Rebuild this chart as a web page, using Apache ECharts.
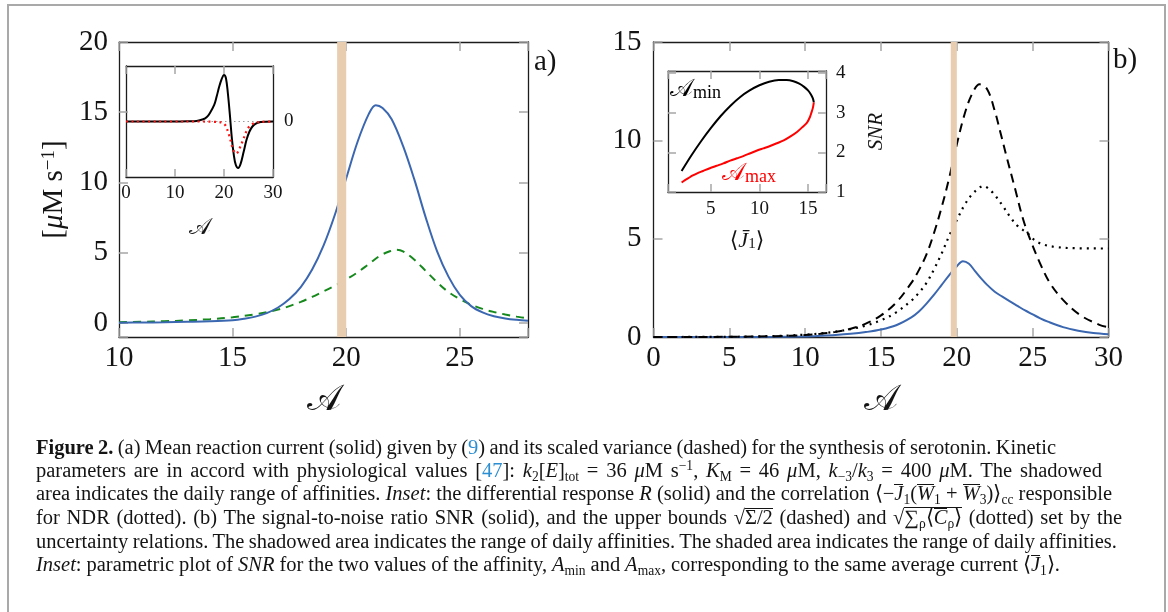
<!DOCTYPE html>
<html>
<head>
<meta charset="utf-8">
<script src="https://cdn.jsdelivr.net/npm/echarts@6/dist/echarts.min.js"></script>
<style>
html,body{margin:0;padding:0;background:#fff;width:1168px;height:612px;overflow:hidden}
#frame{position:absolute;left:7px;top:4px;width:1159px;height:660px;border:2px solid #a9a9a9;box-sizing:border-box}
#chart{position:absolute;left:0;top:0;width:1168px;height:612px}
#caption{position:absolute;left:0;top:0;font-family:'Liberation Serif',serif;font-size:20.5px;color:#141414}
.ln{position:absolute;left:36px;white-space:nowrap;line-height:22px;height:22px}
.lk{color:#2b8ed1}
sub,sup{font-size:66%;line-height:0}
sub{vertical-align:-0.3em}
sup{vertical-align:0.55em}
.ov,.ob{display:inline-block;line-height:16px;border-top:1px solid #141414}
</style>
</head>
<body>
<div id="frame"></div>
<div id="chart"></div>
<div id="caption">
<div class="ln" data-end="1056" style="top:436px"><b>Figure 2.</b> (a) Mean reaction current (solid) given by (<span class="lk">9</span>) and its scaled variance (dashed) for the synthesis of serotonin. Kinetic</div>
<div class="ln" data-end="1102" style="top:459px">parameters are in accord with physiological values [<span class="lk">47</span>]: <i>k</i><sub>2</sub>[<i>E</i>]<sub>tot</sub> = 36 <i>μ</i>M s<sup>−1</sup>, <i>K</i><sub>M</sub> = 46 <i>μ</i>M, <i>k</i><sub>−3</sub>/<i>k</i><sub>3</sub> = 400 <i>μ</i>M. The shadowed</div>
<div class="ln" data-end="1112" style="top:482px">area indicates the daily range of affinities. <i>Inset</i>: the differential response <i>R</i> (solid) and the correlation ⟨−<i class="ob">J</i><sub>1</sub>(<i class="ob">W</i><sub>1</sub> + <i class="ob">W</i><sub>3</sub>)⟩<sub>cc</sub> responsible</div>
<div class="ln" data-end="1122" style="top:506px">for NDR (dotted). (b) The signal-to-noise ratio SNR (solid), and the upper bounds √<span class="ov">Σ/2</span> (dashed) and √<span class="ov">∑<sub>ρ</sub>⟨<i class="ob">C</i><sub>ρ</sub>⟩</span> (dotted) set by the</div>
<div class="ln" data-end="1117" style="top:530px">uncertainty relations. The shadowed area indicates the range of daily affinities. The shaded area indicates the range of daily affinities.</div>
<div class="ln" data-end="1060" style="top:553px"><i>Inset</i>: parametric plot of <i>SNR</i> for the two values of the affinity, <i>A</i><sub>min</sub> and <i>A</i><sub>max</sub>, corresponding to the same average current ⟨<i class="ob">J</i><sub>1</sub>⟩.</div>
</div>
<script>
// ---------------- data ----------------
// (a) main panel
const affLeftBlue = [10,11,12,13,14,15,15.5,16,16.5,17,17.5,18,18.5,19,19.5,20,20.5,21,21.3,21.6,22,22.5,23,23.5,24,24.5,25,25.5,26,26.5,27,27.5,28];
const meanCurrent = [0.02,0.03,0.05,0.08,0.12,0.2,0.3,0.45,0.7,1.1,1.7,2.55,3.8,5.5,7.7,10.3,12.9,14.9,15.5,15.3,14.5,12.6,10.2,7.5,5.1,3.3,2.0,1.2,0.75,0.48,0.32,0.22,0.15];
const affLeftGreen = [10,11,12,13,14,15,16,17,17.5,18,18.5,19,19.5,20,20.5,21,21.5,22,22.2,22.5,23,23.5,24,24.5,25,25.5,26,26.5,27,27.5,28];
const scaledVariance = [0.05,0.08,0.12,0.18,0.27,0.4,0.62,0.95,1.2,1.5,1.85,2.25,2.65,3.1,3.6,4.2,4.8,5.15,5.22,5.1,4.5,3.7,2.9,2.2,1.7,1.3,1.0,0.78,0.6,0.45,0.32];
// (a) inset
const affInsetR = [0,5,10,13,14.4,15.75,16.5,17.1,18,18.5,19,19.5,20,20.4,20.8,21.2,21.6,22,22.4,22.9,23.4,24,24.6,25.2,25.8,26.5,27.5,30];
const responseR = [0,0,0,0.005,0.01,0.04,0.08,0.15,0.3,0.45,0.62,0.76,0.84,0.78,0.5,0.12,-0.3,-0.6,-0.78,-0.84,-0.76,-0.55,-0.33,-0.18,-0.09,-0.04,-0.01,0];
const affInsetC = [0,5,10,15,18,19.1,20.2,20.8,21.3,21.9,22.5,23.2,23.9,24.9,25.9,27.3,30];
const correlationNDR = [0,0,0,0,-0.005,-0.01,-0.06,-0.18,-0.33,-0.51,-0.58,-0.48,-0.33,-0.12,-0.04,-0.01,0];
const insetZeroAff = [0,30];
const insetZeroVal = [0,0];
// (b) main panel
const affRightBlue = [0,5,8,10,11,12,13,14,15,16,17,17.5,18,18.5,19,19.5,20,20.4,20.8,21.2,21.6,22,22.5,23,23.5,24,24.5,25,25.5,26,27,28,29,30];
const snr = [0,0,0.01,0.03,0.06,0.1,0.16,0.25,0.38,0.6,1.0,1.3,1.7,2.15,2.65,3.15,3.6,3.85,3.72,3.35,2.98,2.65,2.3,2.05,1.81,1.58,1.35,1.15,0.95,0.78,0.5,0.32,0.2,0.14];
const affRightDash = [0,5,8,10,11,12,13,14,15,16,17,17.5,18,18.5,19,19.5,20,20.5,21,21.5,22,22.5,22.84,23.28,23.83,24.38,24.93,25.48,26.14,27,28.1,29.4,30];
const boundSigma = [0,0.01,0.04,0.1,0.16,0.26,0.42,0.68,1.1,1.75,2.75,3.4,4.2,5.3,6.6,8.1,9.8,11.3,12.35,12.85,12.6,11.5,10.5,9.17,7.57,5.96,4.77,3.76,2.74,1.89,1.13,0.62,0.5];
const affRightDot = [0,5,8,10,11,12,13,14,15,16,17,17.5,18,18.5,19,19.5,20,20.5,21,21.5,21.74,22,22.4,23,23.5,24,24.7,25.2,25.8,26.5,27.5,30];
const boundC = [0,0.01,0.05,0.12,0.18,0.27,0.4,0.58,0.85,1.25,1.85,2.25,2.75,3.45,4.25,5.15,5.95,6.7,7.25,7.6,7.68,7.6,7.31,6.7,6.12,5.65,5.25,4.88,4.68,4.58,4.52,4.5];
// (b) inset: parametric SNR vs <J1>
const j1Min = [2.0,3.0,4.0,5.0,6.0,7.0,8.0,9.0,10.0,11.0,12.0,12.8,13.5,14.1,14.6,15.0,15.3,15.5,15.6];
const snrMin = [1.53,1.92,2.28,2.61,2.91,3.17,3.39,3.56,3.69,3.78,3.82,3.82,3.79,3.73,3.65,3.56,3.46,3.36,3.26];
const j1Max = [15.6,15.5,15.35,15.2,14.9,14.4,13.9,13.2,12.5,11.8,11.1,10.4,9.7,9.0,8.4,7.7,7.0,6.3,5.6,4.9,4.2,3.6,3.1,2.7,2.35,2.0];
const snrMax = [3.26,3.12,3.0,2.89,2.75,2.63,2.52,2.4,2.3,2.23,2.16,2.1,2.04,1.97,1.91,1.85,1.79,1.72,1.66,1.6,1.53,1.47,1.41,1.35,1.3,1.24];
// shaded daily affinity range
const dailyRange = [19.6, 20.0];
// tick labels
const leftXTicks = [10,15,20,25];
const leftYTicks = [0,5,10,15,20];
const insetLeftXTicks = [0,10,20,30];
const rightXTicks = [0,5,10,15,20,25,30];
const rightYTicks = [0,5,10,15];
const insetRightXTicks = [5,10,15];
const insetRightYTicks = [1,2,3,4];

// ---------------- helpers ----------------
const FONT = "'Liberation Serif', 'DejaVu Serif', serif";
const INK = '#141414';
const SA = '\u{1D49C}';
const zip = (xs, ys) => xs.map((x, i) => [x, ys[i]]);
const onlyTicks = list => v => (list.some(t => Math.abs(t - v) < 1e-6) ? String(v) : '');

function axis(kind, o) {
  const a = {
    type: 'value', gridIndex: o.grid, position: o.pos, min: o.min, max: o.max,
    axisLine: {show: true, onZero: false, lineStyle: {color: '#1c1c1c', width: 1.3}},
    axisTick: {show: o.tick !== false, inside: true, length: o.tickLen || 9, lineStyle: {color: '#a6a6a6', width: 1.5}},
    splitLine: {show: false},
    axisLabel: {show: !!o.labels, fontFamily: FONT, fontSize: o.fs || 29, color: INK, margin: o.margin || 8,
      formatter: o.labels ? onlyTicks(o.labels) : undefined},
  };
  if (o.interval) a.interval = o.interval;
  if (o.splitNumber) a.splitNumber = o.splitNumber;
  if (o.name) {
    a.name = o.name; a.nameLocation = 'middle'; a.nameGap = o.nameGap;
    if (o.nameRotate !== undefined) a.nameRotate = o.nameRotate;
    a.nameTextStyle = o.nameStyle;
  }
  return a;
}

const scriptAStyle = size => ({fontFamily: "'DejaVu Serif', 'DejaVu Sans', serif", fontSize: size, color: INK});

const xAxes = [
  axis('x', {grid: 0, pos: 'bottom', min: 10, max: 28, interval: 5, labels: leftXTicks, margin: 7,
    name: SA, nameGap: 46, nameStyle: scriptAStyle(36)}),
  axis('x', {grid: 0, pos: 'top', min: 10, max: 28, interval: 5}),
  axis('x', {grid: 1, pos: 'bottom', min: 0, max: 30, interval: 10, labels: insetLeftXTicks, fs: 19, margin: 7, tickLen: 8,
    name: SA, nameGap: 40, nameStyle: scriptAStyle(23)}),
  axis('x', {grid: 1, pos: 'top', min: 0, max: 30, interval: 10, tickLen: 8}),
  axis('x', {grid: 2, pos: 'bottom', min: 0, max: 30, interval: 5, labels: rightXTicks, margin: 7,
    name: SA, nameGap: 46, nameStyle: scriptAStyle(36)}),
  axis('x', {grid: 2, pos: 'top', min: 0, max: 30, interval: 5}),
  axis('x', {grid: 3, pos: 'bottom', min: 0.6, max: 16.85, splitNumber: 3, labels: insetRightXTicks, fs: 19, margin: 8, tickLen: 8,
    name: '{n|\u27E8}{i|J\u0304}{s|1}{n|\u27E9}', nameGap: 38,
    nameStyle: {fontFamily: FONT, fontSize: 22, color: INK, rich: {
      n: {fontFamily: "'DejaVu Sans', serif", fontSize: 22, color: INK},
      i: {fontFamily: FONT, fontStyle: 'italic', fontSize: 22, color: INK},
      s: {fontFamily: FONT, fontSize: 15, color: INK, verticalAlign: 'bottom'}}}}),
  axis('x', {grid: 3, pos: 'top', min: 0.6, max: 16.85, splitNumber: 3, tickLen: 8}),
];
const yAxes = [
  axis('y', {grid: 0, pos: 'left', min: -1, max: 20, splitNumber: 4, labels: leftYTicks, margin: 11,
    name: '{b|[}{mu|\u03BC}{b|M s}{sup|\u22121}{b|]}', nameGap: 50, nameRotate: 90,
    nameStyle: {fontFamily: FONT, fontSize: 28, color: INK, rich: {
      b: {fontFamily: FONT, fontSize: 29, color: INK},
      mu: {fontFamily: FONT, fontStyle: 'italic', fontSize: 29, color: INK},
      sup: {fontFamily: FONT, fontSize: 19, color: INK, verticalAlign: 'top'}}}}),
  axis('y', {grid: 0, pos: 'right', min: -1, max: 20, splitNumber: 4}),
  axis('y', {grid: 1, pos: 'left', min: -1, max: 1, interval: 1, tick: false}),
  axis('y', {grid: 1, pos: 'right', min: -1, max: 1, interval: 1, tick: false, labels: [0], fs: 19, margin: 11}),
  axis('y', {grid: 2, pos: 'left', min: 0, max: 15, interval: 5, labels: rightYTicks, margin: 12}),
  axis('y', {grid: 2, pos: 'right', min: 0, max: 15, interval: 5}),
  axis('y', {grid: 3, pos: 'left', min: 1, max: 4.05, splitNumber: 3, tickLen: 8}),
  axis('y', {grid: 3, pos: 'right', min: 1, max: 4.05, splitNumber: 3, tickLen: 8, labels: insetRightYTicks, fs: 19, margin: 10,
    name: 'SNR', nameGap: 40, nameRotate: 90,
    nameStyle: {fontFamily: FONT, fontStyle: 'italic', fontSize: 21, color: INK}}),
];

const shade = {
  silent: true, z: 10,
  itemStyle: {color: '#e8cdb0', opacity: 1, borderWidth: 0},
  data: [[{xAxis: dailyRange[0]}, {xAxis: dailyRange[1]}]]
};
const line = (name, xi, yi, data, color, width, type, extra) => Object.assign({
  name, type: 'line', xAxisIndex: xi, yAxisIndex: yi, data, showSymbol: false, symbol: 'none',
  smooth: 0.35, animation: false, silent: true,
  lineStyle: {color, width, type: type || 'solid'}
}, extra || {});

const series = [
  line('meanCurrent', 0, 0, zip(affLeftBlue, meanCurrent), '#3b67b1', 2, 'solid', {markArea: shade, z: 3}),
  line('scaledVariance', 0, 0, zip(affLeftGreen, scaledVariance), '#16891c', 2, [8, 6], {z: 2}),
  line('zero', 2, 2, zip(insetZeroAff, insetZeroVal), '#9a9a9a', 1, [1.5, 3], {smooth: false}),
  line('R', 2, 2, zip(affInsetR, responseR), '#000000', 2, 'solid'),
  line('NDR', 2, 2, zip(affInsetC, correlationNDR), '#ff1414', 2.2, [2, 3.5]),
  line('SNR', 4, 4, zip(affRightBlue, snr), '#3b67b1', 2, 'solid', {markArea: shade, z: 3}),
  line('sigma', 4, 4, zip(affRightDash, boundSigma), '#000000', 2, [9, 6]),
  line('C', 4, 4, zip(affRightDot, boundC), '#000000', 2.2, [2, 5]),
  line('Amin', 6, 6, zip(j1Min, snrMin), '#000000', 2, 'solid', {smooth: 0.25}),
  line('Amax', 6, 6, zip(j1Max, snrMax), '#ff0000', 2, 'solid', {smooth: 0.25}),
];

const option = {
  animation: false,
  grid: [
    {left: 119, top: 42, width: 409, height: 295, containLabel: false},
    {left: 126, top: 66, width: 147, height: 111, show: true, backgroundColor: '#fff', borderWidth: 0},
    {left: 653.5, top: 42, width: 455, height: 295},
    {left: 668, top: 71, width: 158, height: 121, show: true, backgroundColor: '#fff', borderWidth: 0},
  ],
  xAxis: xAxes,
  yAxis: yAxes,
  series,
  graphic: [
    {type: 'text', left: 534, top: 48, style: {text: 'a)', fontFamily: FONT, fontSize: 29, fill: INK}},
    {type: 'text', left: 1113, top: 46, style: {text: 'b)', fontFamily: FONT, fontSize: 29, fill: INK}},
    {type: 'text', left: 670, top: 78, z: 20, style: {text: '{a|' + SA + '}{s|min}', rich: {
      a: {fontFamily: "'DejaVu Serif', 'DejaVu Sans', serif", fontSize: 24, fill: '#000'},
      s: {fontFamily: FONT, fontSize: 18, fill: '#000', verticalAlign: 'bottom'}}}},
    {type: 'text', left: 722, top: 162, z: 20, style: {text: '{a|' + SA + '}{s|max}', rich: {
      a: {fontFamily: "'DejaVu Serif', 'DejaVu Sans', serif", fontSize: 24, fill: '#ff0000'},
      s: {fontFamily: FONT, fontSize: 18, fill: '#ff0000', verticalAlign: 'bottom'}}}},
  ]
};

const chart = echarts.init(document.getElementById('chart'));
chart.setOption(option);

// fit caption lines to the reference line lengths with word spacing
function fitCaption() {
  document.querySelectorAll('.ln').forEach(el => {
    el.style.wordSpacing = '0px';
    const end = parseFloat(el.dataset.end);
    const w = el.getBoundingClientRect().width;
    const spaces = (el.textContent.match(/ /g) || []).length;
    if (spaces > 0) el.style.wordSpacing = ((end - 36 - w) / spaces).toFixed(2) + 'px';
  });
}
fitCaption();
if (document.fonts && document.fonts.ready) document.fonts.ready.then(fitCaption);
</script>
</body>
</html>
